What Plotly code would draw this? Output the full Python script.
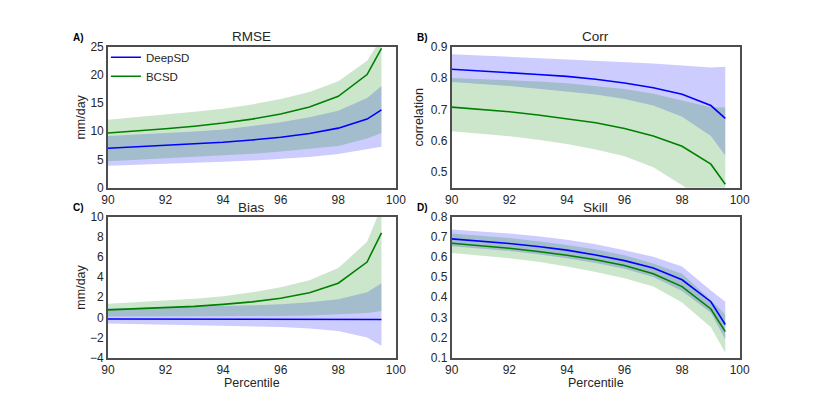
import plotly.graph_objects as go

percentile = [90, 91, 92, 93, 94, 95, 96, 97, 98, 99, 99.5]

rmse_deepsd = [7.0, 7.25, 7.5, 7.75, 8.05, 8.45, 8.95, 9.6, 10.55, 12.15, 13.8]
rmse_deepsd_lo = [3.9, 4.05, 4.2, 4.4, 4.6, 4.8, 5.1, 5.45, 5.95, 6.8, 7.25]
rmse_deepsd_hi = [9.15, 9.4, 9.65, 9.95, 10.3, 10.9, 11.6, 12.5, 13.65, 15.9, 18.0]
rmse_bcsd = [9.7, 10.05, 10.45, 10.9, 11.45, 12.15, 13.05, 14.3, 16.2, 20.05, 24.7]
rmse_bcsd_lo = [4.7, 4.95, 5.15, 5.4, 5.7, 6.0, 6.4, 6.85, 7.4, 8.7, 9.7]
rmse_bcsd_hi = [12.05, 12.5, 12.95, 13.45, 14.0, 14.75, 15.7, 16.95, 18.85, 22.5, 26.5]

corr_deepsd = [0.828, 0.823, 0.817, 0.811, 0.805, 0.796, 0.784, 0.769, 0.748, 0.712, 0.671]
corr_deepsd_lo = [0.787, 0.781, 0.774, 0.766, 0.757, 0.747, 0.733, 0.712, 0.676, 0.615, 0.553]
corr_deepsd_hi = [0.876, 0.872, 0.868, 0.864, 0.860, 0.856, 0.851, 0.846, 0.840, 0.833, 0.836]
corr_bcsd = [0.707, 0.700, 0.692, 0.682, 0.670, 0.657, 0.639, 0.615, 0.582, 0.525, 0.461]
corr_bcsd_lo = [0.630, 0.623, 0.614, 0.603, 0.589, 0.572, 0.550, 0.515, 0.458, 0.390, 0.360]
corr_bcsd_hi = [0.800, 0.797, 0.793, 0.789, 0.783, 0.775, 0.765, 0.750, 0.728, 0.707, 0.706]

bias_deepsd = [-0.15, -0.15, -0.15, -0.15, -0.15, -0.15, -0.15, -0.16, -0.17, -0.2, -0.2]
bias_deepsd_lo = [-0.6, -0.65, -0.7, -0.75, -0.8, -0.88, -0.95, -1.1, -1.35, -2.0, -2.8]
bias_deepsd_hi = [0.9, 0.95, 1.0, 1.05, 1.1, 1.2, 1.3, 1.5, 1.8, 2.5, 3.4]
bias_bcsd = [0.75, 0.85, 0.95, 1.1, 1.3, 1.55, 1.9, 2.45, 3.4, 5.5, 8.4]
bias_bcsd_lo = [0.1, 0.1, 0.1, 0.1, 0.1, 0.12, 0.15, 0.2, 0.3, 0.45, 0.65]
bias_bcsd_hi = [1.35, 1.5, 1.65, 1.85, 2.1, 2.5, 3.0, 3.7, 4.9, 7.5, 11.0]

skill_deepsd = [0.69, 0.68, 0.667, 0.652, 0.634, 0.61, 0.582, 0.545, 0.487, 0.378, 0.265]
skill_deepsd_lo = [0.653, 0.642, 0.63, 0.613, 0.594, 0.57, 0.542, 0.501, 0.431, 0.323, 0.19]
skill_deepsd_hi = [0.736, 0.728, 0.717, 0.703, 0.686, 0.663, 0.634, 0.601, 0.553, 0.434, 0.378]
skill_bcsd = [0.668, 0.656, 0.643, 0.627, 0.609, 0.586, 0.558, 0.517, 0.453, 0.342, 0.23]
skill_bcsd_lo = [0.62, 0.607, 0.594, 0.576, 0.553, 0.526, 0.495, 0.453, 0.374, 0.251, 0.125]
skill_bcsd_hi = [0.717, 0.707, 0.694, 0.678, 0.66, 0.637, 0.608, 0.568, 0.517, 0.386, 0.315]

x_ticks = [90, 92, 94, 96, 98, 100]

W, H = 830, 415
FONT = "Liberation Sans, Arial, sans-serif"
TXT = "#262626"
FRAME = "#4d4d4d"
BLUE = "#0000ff"
GREEN = "#008000"
BLUE_FILL = "rgba(0,0,255,0.2)"
GREEN_FILL = "rgba(0,128,0,0.2)"

panels = [
    ("x", "y", (rmse_deepsd, rmse_deepsd_lo, rmse_deepsd_hi, rmse_bcsd, rmse_bcsd_lo, rmse_bcsd_hi),
     [0, 25], [0, 5, 10, 15, 20, 25], "RMSE", "A)"),
    ("x2", "y2", (corr_deepsd, corr_deepsd_lo, corr_deepsd_hi, corr_bcsd, corr_bcsd_lo, corr_bcsd_hi),
     [0.45, 0.9], [0.5, 0.6, 0.7, 0.8, 0.9], "Corr", "B)"),
    ("x3", "y3", (bias_deepsd, bias_deepsd_lo, bias_deepsd_hi, bias_bcsd, bias_bcsd_lo, bias_bcsd_hi),
     [-4, 10], [-4, -2, 0, 2, 4, 6, 8, 10], "Bias", "C)"),
    ("x4", "y4", (skill_deepsd, skill_deepsd_lo, skill_deepsd_hi, skill_bcsd, skill_bcsd_lo, skill_bcsd_hi),
     [0.1, 0.8], [0.1, 0.2, 0.3, 0.4, 0.5, 0.6, 0.7, 0.8], "Skill", "D)"),
]

# pixel boxes of plot areas: (left, right, top, bottom)
boxes = [(103, 397, 41, 187), (454, 748, 41, 187), (103, 397, 217, 363), (454, 748, 217, 363)]

fig = go.Figure()
layout = dict(
    width=W, height=H, margin=dict(l=0, r=0, t=0, b=0),
    paper_bgcolor="white", plot_bgcolor="white",
    font=dict(family=FONT, size=12, color=TXT),
    showlegend=True,
    legend=dict(x=101 / W, y=1 - 37 / H, xanchor="left", yanchor="top",
                bgcolor="rgba(0,0,0,0)", font=dict(size=11.5, color=TXT),
                traceorder="normal", tracegroupgap=0, itemwidth=30),
    annotations=[],
)

for i, (xa, ya, s, ylim, yt, title, lab) in enumerate(panels):
    dmean, dlo, dhi, bmean, blo, bhi = s
    l, r, t, b = boxes[i]
    fig.add_trace(go.Scatter(x=percentile, y=dlo, xaxis=xa, yaxis=ya, mode="lines",
                             line=dict(width=0), showlegend=False, hoverinfo="skip"))
    fig.add_trace(go.Scatter(x=percentile, y=dhi, xaxis=xa, yaxis=ya, mode="lines",
                             line=dict(width=0), fill="tonexty", fillcolor=BLUE_FILL,
                             showlegend=False, hoverinfo="skip"))
    fig.add_trace(go.Scatter(x=percentile, y=blo, xaxis=xa, yaxis=ya, mode="lines",
                             line=dict(width=0), showlegend=False, hoverinfo="skip"))
    fig.add_trace(go.Scatter(x=percentile, y=bhi, xaxis=xa, yaxis=ya, mode="lines",
                             line=dict(width=0), fill="tonexty", fillcolor=GREEN_FILL,
                             showlegend=False, hoverinfo="skip"))
    fig.add_trace(go.Scatter(x=percentile, y=dmean, xaxis=xa, yaxis=ya, mode="lines",
                             line=dict(color=BLUE, width=1.6), name="DeepSD",
                             showlegend=(i == 0)))
    fig.add_trace(go.Scatter(x=percentile, y=bmean, xaxis=xa, yaxis=ya, mode="lines",
                             line=dict(color=GREEN, width=1.6), name="BCSD",
                             showlegend=(i == 0)))

    xkey = "xaxis" if xa == "x" else "xaxis" + xa[1:]
    ykey = "yaxis" if ya == "y" else "yaxis" + ya[1:]
    layout[xkey] = dict(
        domain=[l / W, r / W], anchor=ya, range=[90, 100], tickvals=x_ticks,
        showline=True, mirror=True, linecolor=FRAME, linewidth=1.5,
        showgrid=False, zeroline=False, ticks="", ticklen=0,
        tickfont=dict(size=12, color=TXT),
    )
    layout[ykey] = dict(
        domain=[1 - b / H, 1 - t / H], anchor=xa, range=ylim, tickvals=yt,
        ticktext=[("\u2212" + str(abs(v)) if v < 0 else str(v)) for v in yt],
        showline=True, mirror=True, linecolor=FRAME, linewidth=1.5,
        showgrid=False, zeroline=False, ticks="", ticklen=0,
        tickfont=dict(size=12, color=TXT),
    )
    cx = (l + r) / 2 / W
    layout["annotations"].append(dict(
        text=title, x=cx, y=1 - (t - 10) / H, xref="paper", yref="paper",
        xanchor="center", yanchor="middle", showarrow=False,
        font=dict(size=13.5, color=TXT)))
    layout["annotations"].append(dict(
        text="<b>" + lab + "</b>", x=(l - 30) / W, y=1 - (t - 9) / H, xref="paper", yref="paper",
        xanchor="center", yanchor="middle", showarrow=False,
        font=dict(size=10, color="#000000")))

# axis titles
ylabels = [("mm/day", 76, 114), ("correlation", 421, 114), ("mm/day", 76, 290)]
for text, px, py in ylabels:
    layout["annotations"].append(dict(
        text=text, x=px / W, y=1 - py / H, xref="paper", yref="paper",
        xanchor="center", yanchor="middle", showarrow=False, textangle=-90,
        font=dict(size=12.5, color=TXT)))
for px in (250, 601):
    layout["annotations"].append(dict(
        text="Percentile", x=px / W, y=1 - 389 / H, xref="paper", yref="paper",
        xanchor="center", yanchor="middle", showarrow=False,
        font=dict(size=12.5, color=TXT)))

fig.update_layout(**layout)
fig.write_html("out.html",
               config={"displayModeBar": False},
               post_script="document.body.style.margin='0px';document.body.style.overflow='hidden';")
